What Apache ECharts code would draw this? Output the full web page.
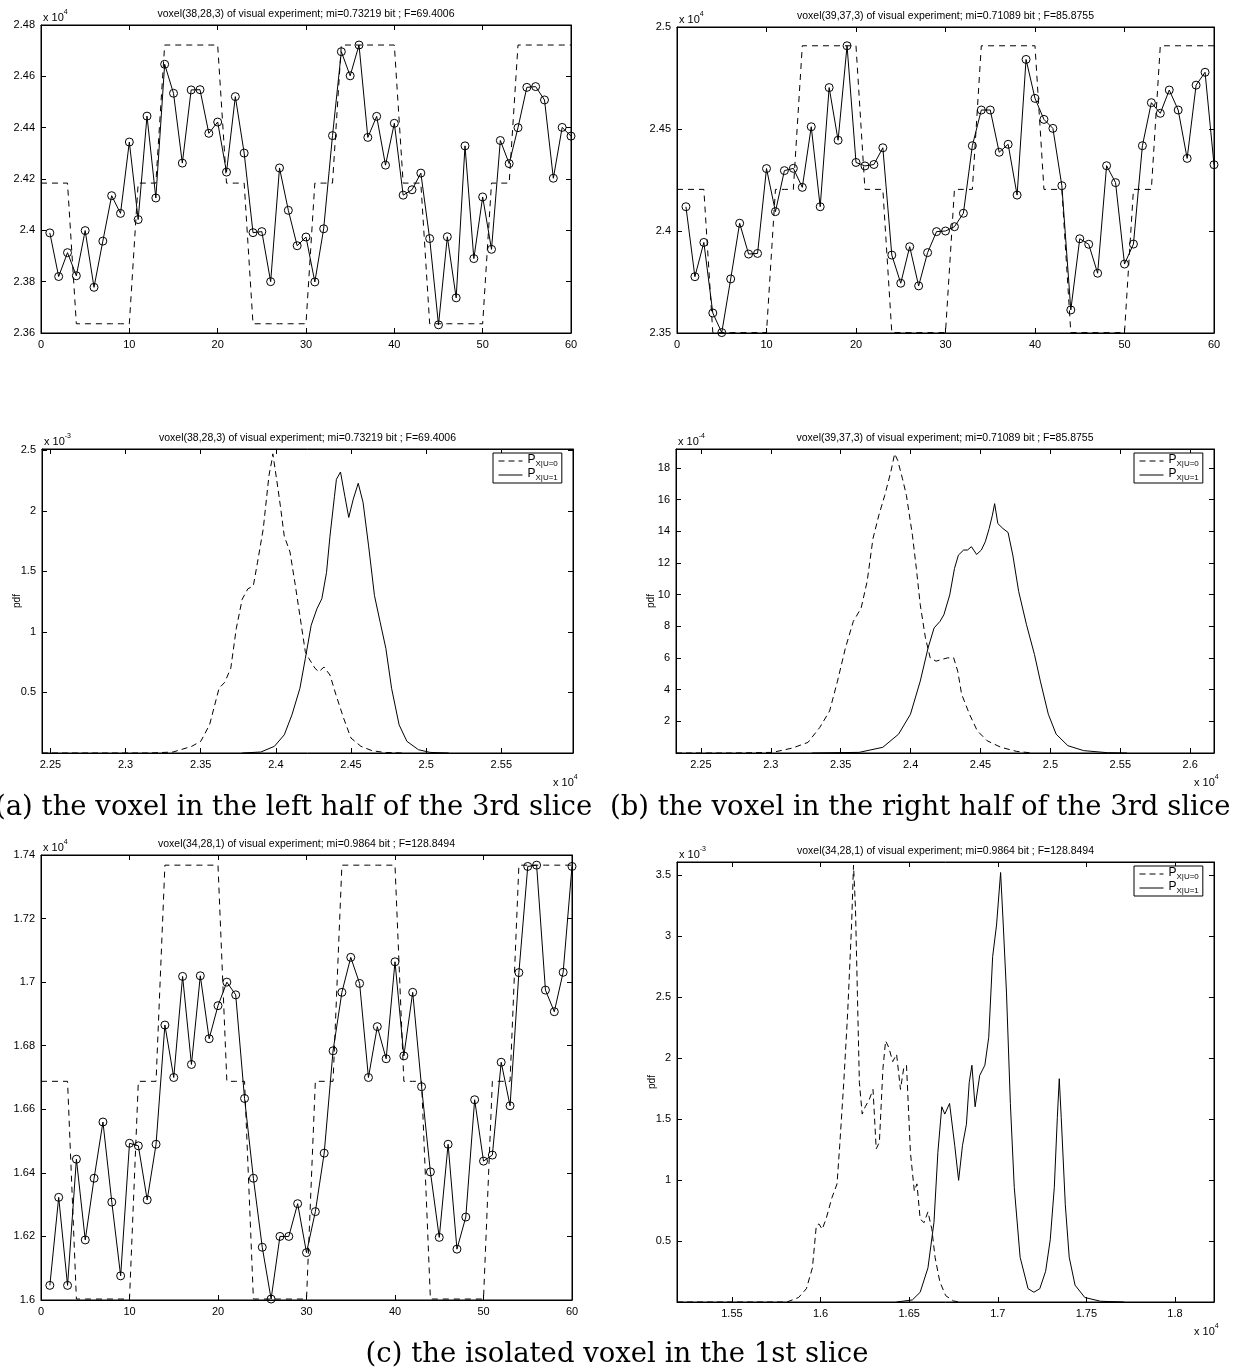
<!DOCTYPE html>
<html>
<head>
<meta charset="utf-8">
<script src="https://cdn.jsdelivr.net/npm/echarts@6/dist/echarts.min.js"></script>
<style>
  html, body { margin: 0; padding: 0; background: #fff; }
  #chart { width: 1233px; height: 1371px; }
</style>
</head>
<body>
<div id="chart"></div>
<script>
const SANS = '"Liberation Sans", Arial, Helvetica, sans-serif';
const SERIF = '"DejaVu Serif", "Liberation Serif", serif';

// ---- block design: 0 = low, 1 = intermediate, 2 = high, for scans 0..60 ----
const stimulusCode = [
  1, 1, 1, 1,
  0, 0, 0, 0, 0, 0, 0,
  1, 1, 1,
  2, 2, 2, 2, 2, 2, 2,
  1, 1, 1,
  0, 0, 0, 0, 0, 0, 0,
  1, 1, 1,
  2, 2, 2, 2, 2, 2, 2,
  1, 1, 1,
  0, 0, 0, 0, 0, 0, 0,
  1, 1, 1,
  2, 2, 2, 2, 2, 2, 2
];
const stimulusScans = stimulusCode.map((_, i) => i);       // 0..60
const scans = Array.from({ length: 60 }, (_, i) => i + 1); // 1..60

// ---- voxel time courses (units of 10^4) ----
const voxelLeft = [
  2.399, 2.382, 2.3913, 2.3823, 2.3999, 2.3778, 2.3958, 2.4135, 2.4066, 2.4344,
  2.4042, 2.4445, 2.4126, 2.4647, 2.4534, 2.4262, 2.4547, 2.4548, 2.4378, 2.4422,
  2.4227, 2.4521, 2.4301, 2.3991, 2.3995, 2.380, 2.4243, 2.4078, 2.394, 2.3974,
  2.3799, 2.4006, 2.4369, 2.4696, 2.4602, 2.4722, 2.4362, 2.4444, 2.4254, 2.4417,
  2.4137, 2.4158, 2.4223, 2.3968, 2.3632, 2.3975, 2.3737, 2.4329, 2.389, 2.413,
  2.3926, 2.435, 2.426, 2.44, 2.4557, 2.456, 2.4508, 2.4203, 2.4401, 2.4367
];
const stimLevelsLeft = [2.3636, 2.4184, 2.4722];

const voxelRight = [
  2.4119, 2.3776, 2.3944, 2.3598, 2.3502, 2.3765, 2.4038, 2.3887, 2.389, 2.4306,
  2.4095, 2.4296, 2.4307, 2.4214, 2.4511, 2.4119, 2.4703, 2.4445, 2.4908, 2.4336,
  2.4319, 2.4326, 2.4408, 2.3882, 2.3744, 2.3923, 2.3731, 2.3894, 2.3997, 2.40,
  2.4021, 2.4087, 2.4418, 2.4593, 2.4593, 2.4386, 2.4425, 2.4176, 2.4841, 2.465,
  2.4547, 2.4503, 2.4222, 2.3613, 2.3962, 2.3935, 2.3793, 2.432, 2.4237, 2.3838,
  2.3936, 2.4418, 2.4629, 2.4577, 2.4691, 2.4593, 2.4356, 2.4715, 2.4778, 2.4325
];
const stimLevelsRight = [2.3502, 2.4204, 2.4908];

const voxelIsolated = [
  1.6046, 1.6323, 1.6046, 1.6443, 1.6189, 1.6383, 1.656, 1.6308, 1.6076, 1.6493,
  1.6485, 1.6315, 1.649, 1.6865, 1.670, 1.7018, 1.6741, 1.702, 1.6822, 1.6926,
  1.70, 1.696, 1.6634, 1.6383, 1.6166, 1.6003, 1.62, 1.62, 1.6303, 1.6149,
  1.6278, 1.6462, 1.6784, 1.6968, 1.7078, 1.6996, 1.67, 1.686, 1.6759, 1.7064,
  1.6768, 1.6968, 1.6671, 1.6403, 1.6197, 1.649, 1.616, 1.6261, 1.663, 1.6437,
  1.6456, 1.6748, 1.6611, 1.703, 1.7364, 1.7368, 1.6975, 1.6907, 1.7031, 1.7364
];
const stimLevelsIsolated = [1.6003, 1.6688, 1.7368];

// ---- class-conditional densities: [x (10^4), pdf] ----
// left voxel, pdf in 10^-3
const pdfLeftU0 = [
  [2.2444, 0], [2.316, 0], [2.3316, 0.008], [2.344, 0.055], [2.35, 0.096], [2.3559, 0.233],
  [2.3622, 0.534], [2.366, 0.584], [2.37, 0.70], [2.3737, 1.03], [2.3776, 1.27], [2.3814, 1.356],
  [2.385, 1.38], [2.3878, 1.575], [2.3916, 1.85], [2.3954, 2.29], [2.3974, 2.42], [2.398, 2.47],
  [2.4005, 2.26], [2.403, 2.04], [2.4056, 1.79], [2.4094, 1.66], [2.413, 1.38], [2.417, 1.05],
  [2.4196, 0.836], [2.422, 0.78], [2.426, 0.70], [2.4286, 0.67], [2.432, 0.71], [2.436, 0.644],
  [2.44, 0.48], [2.445, 0.29], [2.45, 0.123], [2.4566, 0.055], [2.464, 0.019], [2.472, 0.005],
  [2.4847, 0]
];
const pdfLeftU1 = [
  [2.3776, 0], [2.39, 0.008], [2.399, 0.055], [2.4056, 0.15], [2.4107, 0.315], [2.416, 0.534],
  [2.4196, 0.78], [2.4235, 1.055], [2.4273, 1.19], [2.4306, 1.274], [2.4337, 1.49], [2.436, 1.79],
  [2.439, 2.12], [2.4403, 2.26], [2.443, 2.32], [2.4459, 2.12], [2.4485, 1.945], [2.4515, 2.096],
  [2.4548, 2.227], [2.458, 2.07], [2.4617, 1.71], [2.4656, 1.30], [2.4694, 1.08], [2.4732, 0.863],
  [2.477, 0.534], [2.482, 0.233], [2.4872, 0.096], [2.4949, 0.027], [2.5026, 0.005], [2.515, 0]
];
// right voxel, pdf in 10^-4
const pdfRightU0 = [
  [2.2322, 0], [2.273, 0], [2.3013, 0.04], [2.3154, 0.31], [2.3266, 0.67], [2.335, 1.61],
  [2.3421, 2.66], [2.3477, 4.54], [2.3534, 6.64], [2.359, 8.31], [2.3646, 9.15], [2.3689, 10.83],
  [2.3731, 13.55], [2.3773, 15.02], [2.3815, 16.27], [2.3858, 17.74], [2.3886, 18.9], [2.3908, 18.47],
  [2.3942, 17.32], [2.397, 16.27], [2.4013, 13.76], [2.4041, 11.66], [2.4069, 9.36], [2.4106, 7.27],
  [2.414, 6.01], [2.4182, 5.80], [2.4224, 5.91], [2.4266, 6.01], [2.4308, 6.01], [2.4337, 5.17],
  [2.4365, 3.71], [2.4421, 2.45], [2.4477, 1.40], [2.4548, 0.77], [2.4646, 0.36], [2.4759, 0.10],
  [2.4872, 0]
];
const pdfRightU1 = [
  [2.3294, 0], [2.3632, 0.04], [2.3801, 0.36], [2.3914, 1.19], [2.3999, 2.45], [2.4069, 4.54],
  [2.4125, 6.64], [2.4168, 7.90], [2.421, 8.31], [2.4238, 8.73], [2.428, 9.99], [2.4314, 11.66],
  [2.4342, 12.50], [2.4379, 12.82], [2.4407, 12.82], [2.4435, 13.03], [2.4472, 12.54], [2.4506, 12.82],
  [2.4534, 13.34], [2.4562, 14.18], [2.4585, 15.02], [2.4601, 15.75], [2.4624, 14.49], [2.466, 14.18],
  [2.4697, 13.93], [2.4731, 12.50], [2.4773, 10.20], [2.4829, 8.10], [2.4886, 6.22], [2.4928, 4.54],
  [2.4985, 2.45], [2.5041, 1.19], [2.5125, 0.46], [2.5238, 0.15], [2.5407, 0.02], [2.5548, 0]
];
// isolated voxel, pdf in 10^-3
const pdfIsolatedU0 = [
  [1.519, 0], [1.581, 0], [1.5876, 0.037], [1.592, 0.109], [1.5954, 0.28], [1.5976, 0.625],
  [1.5991, 0.64], [1.6009, 0.596], [1.6031, 0.68], [1.6064, 0.854], [1.6093, 0.968], [1.6108, 1.28],
  [1.6131, 1.80], [1.6153, 2.37], [1.6175, 3.09], [1.6186, 3.58], [1.6197, 3.23], [1.6208, 2.52],
  [1.6219, 1.80], [1.6235, 1.54], [1.6252, 1.60], [1.6274, 1.656], [1.6296, 1.742], [1.6314, 1.255],
  [1.6332, 1.31], [1.6352, 1.914], [1.6367, 2.14], [1.6385, 2.086], [1.6407, 1.97], [1.6429, 2.03],
  [1.6451, 1.742], [1.6469, 1.914], [1.6485, 1.94], [1.6507, 1.226], [1.6529, 0.91], [1.6544, 0.968],
  [1.6562, 0.68], [1.6584, 0.65], [1.6606, 0.739], [1.6628, 0.596], [1.6646, 0.367], [1.6673, 0.166],
  [1.6706, 0.052], [1.675, 0.009], [1.6783, 0]
];
const pdfIsolatedU1 = [
  [1.6429, 0], [1.6518, 0.017], [1.6562, 0.08], [1.6606, 0.28], [1.664, 0.653], [1.6662, 1.226],
  [1.6684, 1.60], [1.6701, 1.54], [1.6728, 1.627], [1.6757, 1.284], [1.6779, 0.997], [1.6801, 1.284],
  [1.6823, 1.456], [1.6839, 1.80], [1.6854, 1.94], [1.6872, 1.60], [1.6898, 1.857], [1.6927, 1.94],
  [1.6949, 2.17], [1.6971, 2.83], [1.6993, 3.09], [1.7016, 3.52], [1.7031, 3.09], [1.7049, 2.54],
  [1.7071, 1.627], [1.7093, 0.94], [1.7126, 0.367], [1.7171, 0.109], [1.7204, 0.08], [1.7237, 0.109],
  [1.727, 0.252], [1.7296, 0.51], [1.7319, 0.94], [1.7336, 1.513], [1.7347, 1.83], [1.7358, 1.513],
  [1.7381, 0.797], [1.7403, 0.367], [1.7436, 0.138], [1.7491, 0.037], [1.758, 0.006], [1.7712, 0]
];

// ---- tick values ----
const ticksPdfXLeft = [2.25, 2.3, 2.35, 2.4, 2.45, 2.5, 2.55];
const ticksPdfYLeft = [0.5, 1, 1.5, 2, 2.5];
const ticksPdfXRight = [2.25, 2.3, 2.35, 2.4, 2.45, 2.5, 2.55, 2.6];
const ticksPdfYRight = [2, 4, 6, 8, 10, 12, 14, 16, 18];
const ticksPdfXIsolated = [1.55, 1.6, 1.65, 1.7, 1.75, 1.8];
const ticksPdfYIsolated = [0.5, 1, 1.5, 2, 2.5, 3, 3.5];

// ---- panel layout ----
const panels = [
  { kind: 'ts', box: { l: 41, t: 25, w: 530, h: 308 },
    title: 'voxel(38,28,3) of visual experiment; mi=0.73219 bit ; F=69.4006',
    x: { min: 0, max: 60, interval: 10 }, y: { min: 2.36, max: 2.48, interval: 0.02 },
    signal: voxelLeft, levels: stimLevelsLeft, yExp: '4' },
  { kind: 'ts', box: { l: 677, t: 27, w: 537, h: 306 },
    title: 'voxel(39,37,3) of visual experiment; mi=0.71089 bit ; F=85.8755',
    x: { min: 0, max: 60, interval: 10 }, y: { min: 2.35, max: 2.5, interval: 0.05 },
    signal: voxelRight, levels: stimLevelsRight, yExp: '4' },
  { kind: 'pdf', box: { l: 42, t: 449, w: 531, h: 304 },
    title: 'voxel(38,28,3) of visual experiment; mi=0.73219 bit ; F=69.4006',
    x: { min: 2.2444, max: 2.5977, ticks: ticksPdfXLeft }, y: { min: 0, max: 2.51, ticks: ticksPdfYLeft },
    u0: pdfLeftU0, u1: pdfLeftU1, yExp: '-3', xExp: '4' },
  { kind: 'pdf', box: { l: 676, t: 449, w: 538, h: 304 },
    title: 'voxel(39,37,3) of visual experiment; mi=0.71089 bit ; F=85.8755',
    x: { min: 2.2322, max: 2.617, ticks: ticksPdfXRight }, y: { min: 0, max: 19.2, ticks: ticksPdfYRight },
    u0: pdfRightU0, u1: pdfRightU1, yExp: '-4', xExp: '4' },
  { kind: 'ts', box: { l: 41, t: 855, w: 531, h: 445 },
    title: 'voxel(34,28,1) of visual experiment; mi=0.9864 bit ; F=128.8494',
    x: { min: 0, max: 60, interval: 10 }, y: { min: 1.6, max: 1.74, interval: 0.02 },
    signal: voxelIsolated, levels: stimLevelsIsolated, yExp: '4' },
  { kind: 'pdf', box: { l: 677, t: 862, w: 537, h: 440 },
    title: 'voxel(34,28,1) of visual experiment; mi=0.9864 bit ; F=128.8494',
    x: { min: 1.519, max: 1.822, ticks: ticksPdfXIsolated }, y: { min: 0, max: 3.606, ticks: ticksPdfYIsolated },
    u0: pdfIsolatedU0, u1: pdfIsolatedU1, yExp: '-3', xExp: '4' }
];

const captions = [
  { text: '(a) the voxel in the left half of the 3rd slice', x: -5, y: 808, align: 'left' },
  { text: '(b) the voxel in the right half of the 3rd slice', x: 610, y: 808, align: 'left' },
  { text: '(c) the isolated voxel in the 1st slice', x: 617, y: 1355, align: 'center' }
];

const BLACK = '#000';

function makeAxis(gridIndex, position, range, withLabels) {
  const axis = {
    type: 'value', gridIndex, position, min: range.min, max: range.max,
    axisLine: { show: true, onZero: false, lineStyle: { color: BLACK, width: 1 } },
    axisTick: { show: true, inside: true, length: 5, lineStyle: { color: BLACK, width: 1 } },
    axisLabel: {
      show: withLabels, color: BLACK, fontFamily: SANS, fontSize: 11, margin: 6,
      formatter: v => String(+(+v).toFixed(4))
    },
    splitLine: { show: false }
  };
  if (range.ticks) {
    axis.axisTick.customValues = range.ticks;
    axis.axisLabel.customValues = range.ticks;
  } else {
    axis.interval = range.interval;
  }
  return axis;
}

function powerLabel(x, y, exponent) {
  return {
    type: 'text', x, y, z: 100,
    style: {
      text: '{b|x 10}{s|' + exponent + '}',
      fill: BLACK,
      rich: {
        b: { fontFamily: SANS, fontSize: 11, lineHeight: 14, verticalAlign: 'bottom', fill: BLACK },
        s: { fontFamily: SANS, fontSize: 7, lineHeight: 8, verticalAlign: 'top', fill: BLACK }
      },
      align: 'left', verticalAlign: 'middle', textAlign: 'left', textVerticalAlign: 'middle'
    }
  };
}

const option = {
  animation: false,
  backgroundColor: '#fff',
  grid: [], xAxis: [], yAxis: [], series: [], legend: [], graphic: []
};

const legendSub = {};

panels.forEach((p, i) => {
  const b = p.box;
  option.grid.push({
    left: b.l, top: b.t, width: b.w, height: b.h,
    show: true, borderColor: BLACK, borderWidth: 1, backgroundColor: '#fff'
  });
  option.xAxis.push(makeAxis(i, 'bottom', p.x, true), makeAxis(i, 'top', p.x, false));
  option.yAxis.push(makeAxis(i, 'left', p.y, true), makeAxis(i, 'right', p.y, false));
  const xi = 2 * i, yi = 2 * i;

  if (p.kind === 'ts') {
    option.series.push({
      type: 'line', xAxisIndex: xi, yAxisIndex: yi, symbol: 'none', z: 2,
      data: stimulusScans.map((s, k) => [s, p.levels[stimulusCode[k]]]),
      lineStyle: { color: BLACK, width: 1, type: [6, 5] }
    });
    option.series.push({
      type: 'line', xAxisIndex: xi, yAxisIndex: yi, z: 3,
      data: scans.map((s, k) => [s, p.signal[k]]),
      symbol: 'circle', symbolSize: 8, showSymbol: true,
      itemStyle: { color: 'rgba(0,0,0,0)', borderColor: BLACK, borderWidth: 1 },
      lineStyle: { color: BLACK, width: 1 }
    });
  } else {
    const n0 = 'panel' + i + '_u0', n1 = 'panel' + i + '_u1';
    legendSub[n0] = 'X|U=0';
    legendSub[n1] = 'X|U=1';
    option.series.push({
      name: n0, type: 'line', xAxisIndex: xi, yAxisIndex: yi, symbol: 'none', z: 2,
      data: p.u0, itemStyle: { color: BLACK },
      lineStyle: { color: BLACK, width: 1, type: [6, 4] }
    });
    option.series.push({
      name: n1, type: 'line', xAxisIndex: xi, yAxisIndex: yi, symbol: 'none', z: 3,
      data: p.u1, itemStyle: { color: BLACK },
      lineStyle: { color: BLACK, width: 1 }
    });
    option.legend.push({
      data: [n0, n1], orient: 'vertical',
      left: b.l + b.w - 80, top: b.t + 4,
      backgroundColor: '#fff', borderColor: BLACK, borderWidth: 1,
      padding: [1, 4, 1, 5], itemGap: 0, itemWidth: 24, itemHeight: 10,
      selectedMode: false,
      itemStyle: { opacity: 0 },
      lineStyle: { color: BLACK, width: 1 },
      formatter: name => '{p|P}{s|' + legendSub[name] + '}',
      textStyle: {
        color: BLACK,
        rich: {
          p: { fontFamily: SANS, fontSize: 12, lineHeight: 14, verticalAlign: 'top', color: BLACK },
          s: { fontFamily: SANS, fontSize: 8, lineHeight: 9, verticalAlign: 'bottom', color: BLACK }
        }
      }
    });
    // x-axis multiplier below the right end
    option.graphic.push(powerLabel(b.l + b.w - 20, b.t + b.h + 28, p.xExp));
    // y-axis name
    option.graphic.push({
      type: 'text', x: b.l - 25, y: b.t + b.h / 2, rotation: Math.PI / 2, z: 100,
      style: {
        text: 'pdf', fill: BLACK, font: '10px ' + SANS,
        align: 'center', verticalAlign: 'middle', textAlign: 'center', textVerticalAlign: 'middle'
      }
    });
  }

  // panel title
  option.graphic.push({
    type: 'text', x: b.l + b.w / 2, y: b.t - 11, z: 100,
    style: {
      text: p.title, fill: BLACK, font: '10.5px ' + SANS,
      align: 'center', verticalAlign: 'middle', textAlign: 'center', textVerticalAlign: 'middle'
    }
  });
  // y-axis multiplier above the top-left corner
  option.graphic.push(powerLabel(b.l + 2, b.t - 9, p.yExp));
});

captions.forEach(c => {
  option.graphic.push({
    type: 'text', x: c.x, y: c.y, z: 100,
    style: {
      text: c.text, fill: BLACK, font: '27.5px ' + SERIF,
      align: c.align, verticalAlign: 'middle', textAlign: c.align, textVerticalAlign: 'middle'
    }
  });
});

const chart = echarts.init(document.getElementById('chart'), null, { renderer: 'canvas' });
chart.setOption(option);
</script>
</body>
</html>
